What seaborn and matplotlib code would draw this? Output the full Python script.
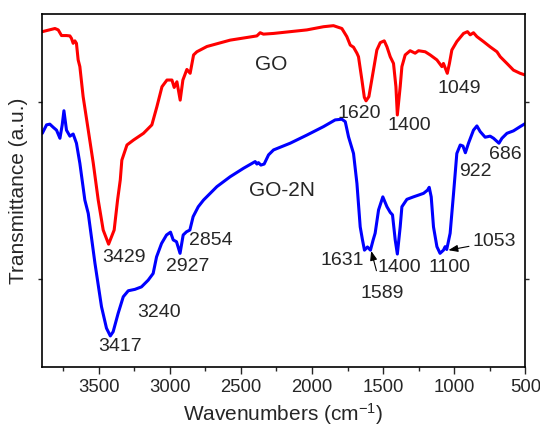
import matplotlib
matplotlib.use("Agg")
import matplotlib.pyplot as plt
from matplotlib.ticker import MultipleLocator
import seaborn as sns
import pandas as pd

# GO spectrum (wavenumber, transmittance a.u.)
go_wn = [3895, 3806, 3783, 3760, 3725, 3701, 3690, 3678, 3666, 3655, 3643, 3631,
         3608, 3572, 3537, 3502, 3467, 3429, 3390, 3366, 3347, 3336, 3300, 3254,
         3184, 3125, 3090, 3054, 3019, 2984, 2968, 2949, 2926, 2907, 2879, 2856,
         2832, 2809, 2738, 2575, 2387, 2364, 2341, 2270, 2153, 2036, 1919, 1849,
         1790, 1755, 1731, 1708, 1684, 1673, 1649, 1632, 1620, 1600, 1568, 1544,
         1520, 1492, 1473, 1450, 1427, 1410, 1400, 1380, 1368, 1345, 1310, 1275,
         1251, 1204, 1169, 1122, 1087, 1076, 1049, 1034, 1017, 982, 935, 907,
         888, 865, 841, 795, 748, 700, 677, 630, 584, 537, 500]
go_t = [95.0, 95.9, 95.5, 93.9, 93.9, 93.8, 93.1, 91.7, 92.4, 91.7, 87.0, 85.1,
        76.6, 67.1, 57.8, 47.3, 38.8, 34.8, 38.8, 47.3, 53.0, 58.6, 62.9, 64.3,
        66.2, 68.6, 73.7, 79.4, 81.3, 81.3, 79.2, 80.8, 75.6, 81.3, 84.3, 83.2,
        88.4, 89.3, 90.8, 92.6, 93.8, 94.7, 94.3, 94.5, 95.0, 95.5, 96.4, 96.7,
        95.9, 93.6, 91.2, 90.6, 88.9, 87.9, 81.3, 76.4, 75.4, 76.6, 84.1, 89.8,
        91.9, 92.4, 90.7, 87.9, 86.0, 79.4, 71.4, 79.4, 85.1, 88.4, 89.6, 88.9,
        89.6, 89.3, 88.4, 87.0, 85.1, 86.0, 83.2, 86.0, 89.8, 92.2, 94.5, 95.0,
        94.1, 94.7, 93.6, 92.2, 90.7, 89.3, 87.9, 86.0, 84.1, 83.2, 82.7]

# GO-2N spectrum
go2n_wn = [3895, 3865, 3842, 3818, 3795, 3771, 3755, 3743, 3725, 3701, 3678, 3655,
           3631, 3596, 3572, 3525, 3479, 3444, 3417, 3397, 3362, 3326, 3291, 3244,
           3198, 3151, 3116, 3092, 3057, 3022, 2994, 2975, 2952, 2927, 2905, 2882,
           2858, 2835, 2799, 2762, 2668, 2575, 2481, 2399, 2387, 2376, 2359, 2336,
           2305, 2270, 2153, 2036, 1919, 1837, 1790, 1766, 1743, 1708, 1684, 1661,
           1645, 1631, 1610, 1589, 1570, 1556, 1532, 1502, 1473, 1450, 1434, 1415,
           1400, 1380, 1368, 1333, 1287, 1251, 1216, 1188, 1176, 1162, 1146, 1122,
           1100, 1076, 1064, 1053, 1029, 1005, 982, 958, 939, 922, 900, 865,
           841, 818, 783, 748, 724, 686, 665, 630, 584, 537, 500]
go2n_t = [66.2, 68.6, 68.8, 67.9, 67.1, 64.8, 68.6, 72.6, 67.1, 65.4, 66.0, 63.4,
          57.7, 47.3, 43.5, 29.4, 17.1, 11.0, 8.8, 10.0, 15.2, 19.9, 21.6, 22.0,
          22.7, 24.6, 26.5, 31.2, 35.0, 37.4, 38.2, 36.0, 35.5, 32.2, 37.4, 38.3,
          38.8, 42.6, 45.4, 47.3, 51.1, 53.9, 56.3, 58.2, 57.5, 57.9, 57.2, 57.5,
          60.1, 61.5, 63.4, 65.7, 68.1, 70.0, 70.2, 69.5, 65.2, 60.5, 52.0, 39.7,
          36.0, 33.1, 34.0, 33.1, 36.0, 37.9, 44.5, 48.2, 45.4, 43.8, 43.1, 36.0,
          32.0, 39.7, 45.4, 47.5, 48.2, 48.7, 49.2, 50.1, 50.9, 48.2, 39.7, 34.1,
          32.2, 33.1, 34.1, 33.3, 37.9, 49.2, 60.5, 62.9, 62.6, 60.7, 63.4, 67.1,
          68.3, 66.7, 65.1, 65.4, 64.8, 63.4, 64.8, 66.2, 66.9, 68.1, 69.0]

# peak labels: text, x, y
peak_text = ["3429", "3417", "3240", "2927", "2854", "1620", "1400", "1049",
             "922", "686", "1631", "1400", "1100"]
peak_x = [3319, 3350, 3076, 2875, 2709, 1669, 1318, 967, 853, 640, 1786, 1385, 1031]
peak_y = [31.1, 5.8, 15.4, 28.4, 35.8, 71.9, 68.3, 79.0, 55.3, 60.3, 30.3, 28.2, 28.2]

sns.set_style("ticks")
plt.rcParams['font.family'] = ['Liberation Sans', 'DejaVu Sans']
plt.rcParams['mathtext.fontset'] = 'custom'
plt.rcParams['mathtext.rm'] = 'Liberation Sans'
plt.rcParams['mathtext.it'] = 'Liberation Sans'

fig = plt.figure(figsize=(5.4, 4.3), dpi=100)
ax = fig.add_axes([0.077, 0.1465, 0.896, 0.8209])

df_go = pd.DataFrame({"wn": go_wn, "t": go_t})
df_2n = pd.DataFrame({"wn": go2n_wn, "t": go2n_t})
sns.lineplot(data=df_go, x="wn", y="t", color="#ff0000", lw=2.2, sort=False, ax=ax)
sns.lineplot(data=df_2n, x="wn", y="t", color="#0000ff", lw=2.2, sort=False, ax=ax)

ax.set_xlim(3900, 500)
ax.set_ylim(0, 100)
ax.xaxis.set_major_locator(MultipleLocator(500))
ax.xaxis.set_minor_locator(MultipleLocator(250))
ax.set_yticks([25, 75])
ax.set_yticklabels([])
ax.tick_params(axis="x", which="major", length=5, width=1, labelsize=13.3, direction="out")
ax.tick_params(axis="x", which="minor", length=3, width=1, direction="out")
ax.tick_params(axis="y", length=3, width=1, right=True, direction="out")
for s in ax.spines.values():
    s.set_linewidth(1.2)
    s.set_color("black")

ax.set_xlabel("Wavenumbers (cm$^{-1}$)", fontsize=15, labelpad=4)
ax.set_ylabel("Transmittance (a.u.)", fontsize=15, labelpad=3)

ax.text(2286, 85.8, "GO", fontsize=15, ha="center", va="center")
ax.text(2211, 50.1, "GO-2N", fontsize=15, ha="center", va="center")
for txt, x, y in zip(peak_text, peak_x, peak_y):
    ax.text(x, y, txt, fontsize=14, ha="center", va="center")

ax.annotate("1589", xy=(1584, 32.9), xytext=(1505, 20.9), fontsize=14,
            ha="center", va="center",
            arrowprops=dict(arrowstyle="-|>,head_length=0.4,head_width=0.15",
                            color="black", lw=0.8, shrinkA=8, shrinkB=0))
ax.annotate("1053", xy=(1041, 33.1), xytext=(721, 35.5), fontsize=14,
            ha="center", va="center",
            arrowprops=dict(arrowstyle="-|>,head_length=0.4,head_width=0.15",
                            color="black", lw=0.8, shrinkA=19, shrinkB=0))

fig.savefig("out.png", dpi=100)
